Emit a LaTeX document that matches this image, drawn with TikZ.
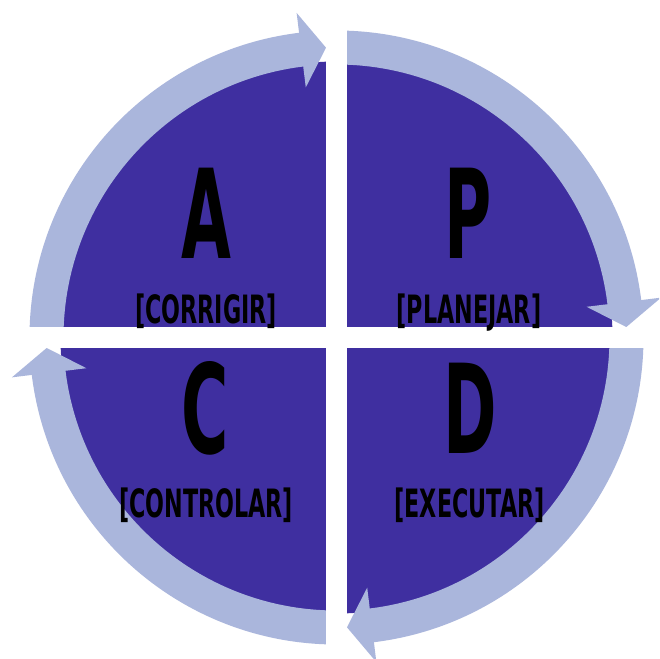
\documentclass[tikz,border=0pt]{standalone}
\usepackage{fontspec}
\newfontfamily\pdcafont[FakeStretch=0.52]{DejaVu Sans}
\newfontfamily\phasefont[FakeStretch=0.57]{DejaVu Sans}
\definecolor{pdcapurple}{RGB}{63,47,160}
\definecolor{pdcaring}{RGB}{170,182,220}
\tikzset{
	letter/.style = {font = \pdcafont\bfseries\fontsize{62}{62}\selectfont, text = black, inner sep = 0pt, anchor = base},
	phase/.style = {font = \phasefont\bfseries\fontsize{19.5}{19.5}\selectfont, text = black, inner sep = 0pt, anchor = base},
	ring/.style = {fill = pdcaring}
}
\begin{document}
\begin{tikzpicture}[x = 0.5pt, y = 0.5pt]
	 \clip (-336.5, -321.5) rectangle (322.5, 337.5);
	 \fill[white] (-336.5, -321.5) rectangle (322.5, 337.5);
	 
	 \fill[pdcapurple] (0, 0) circle (276);
	 
	 \foreach \s/\e in {90/0, 0/-90, -90/-180, 180/90}
	 \fill[ring] (\s:307) arc [start angle = \s, end angle = \e + 7, radius = 307]
	 -- (\e + 7:327) -- (\e + 2.07:290) -- (\e + 7:252)
	 -- (\e + 7:273) arc [start angle = \e + 7, end angle = \s, radius = 273] -- cycle;
	 
	 \fill[white] (-10.5, -340) rectangle (10.5, 340);
	 \fill[white] (-340, -10.5) rectangle (340, 10.5);
	 
	 \node[letter] (A) at (-130.5, 79.5) {A};
	 \node[phase] (corrigir) at (-130.5, 14.5) {[CORRIGIR]};
	 \node[letter] (P) at (132, 79.5) {P};
	 \node[phase] (planejar) at (132.5, 14.5) {[PLANEJAR]};
	 \node[letter] (C) at (-131.5, -115.5) {C};
	 \node[phase] (controlar) at (-130.5, -179.5) {[CONTROLAR]};
	 \node[letter] (D) at (133.5, -115.5) {D};
	 \node[phase] (executar) at (133, -179.5) {[EXECUTAR]};
\end{tikzpicture}
\end{document}
